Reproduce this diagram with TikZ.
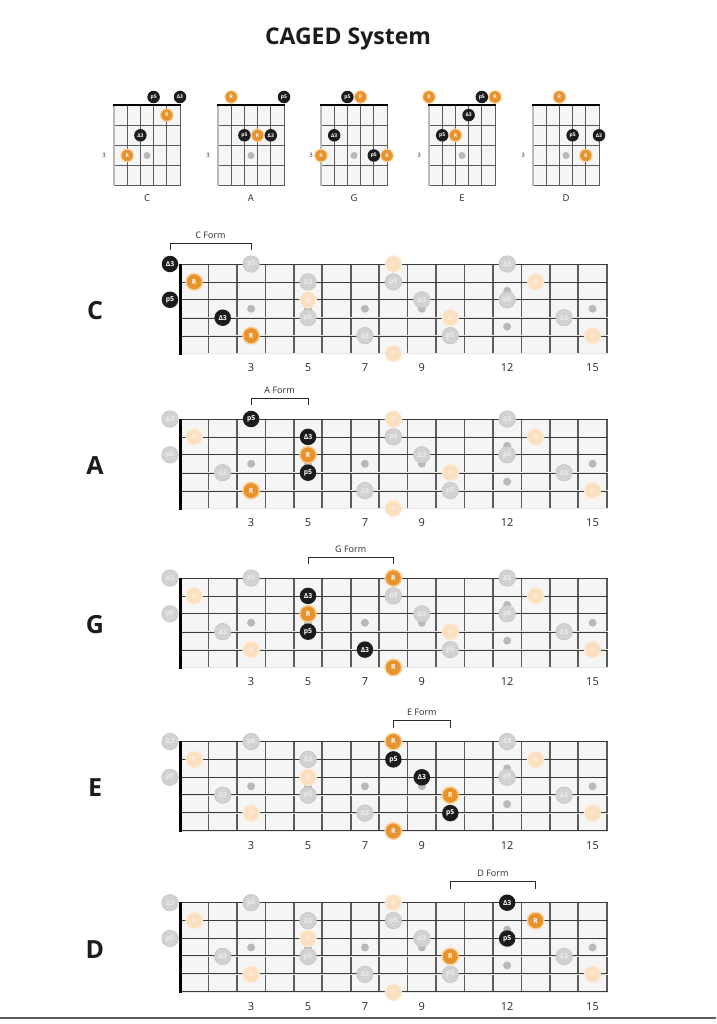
\documentclass[tikz,border=0pt]{standalone}
\usepackage{fontspec}
\setmainfont{Open Sans}
\definecolor{cgorange}{HTML}{E8922B}
\definecolor{cgglow}{HTML}{F7CF98}
\definecolor{cgblack}{HTML}{1C1C1C}
\definecolor{cgfgrey}{HTML}{D2D2D2}
\definecolor{cgfgreyd}{HTML}{C4C4C4}
\definecolor{cgforange}{HTML}{FBE0C0}
\definecolor{cgcell}{HTML}{F5F5F5}
\definecolor{cgfret}{HTML}{5C5C5C}
\definecolor{cgstr}{HTML}{3A3A3A}
\definecolor{cgwound}{HTML}{E6E6E6}
\definecolor{cginlay}{HTML}{B9B9B9}
\definecolor{cgtext}{HTML}{2A2A2A}
\tikzset{
  fretl/.style={draw=cgfret, line width=1.7pt},
  strthin/.style={draw=cgstr, line width=0.8pt},
  strwound/.style={draw=cgstr, line width=0.55pt, double=cgwound, double distance=0.8pt},
  nutline/.style={draw=black, line width=3pt},
  dotbase/.style={circle, inner sep=0pt, minimum size=16.5pt, font=\fontsize{6.8}{6.8}\selectfont\bfseries, text=white},
  tR/.style={dotbase, fill=cgorange, draw=cgglow, line width=1.4pt},
  tD/.style={dotbase, fill=cgblack},
  tP/.style={dotbase, fill=cgblack},
  fR/.style={dotbase, fill=cgforange, draw=cgforange!60!white, line width=1pt, text=cgforange!50!white},
  fD/.style={dotbase, fill=cgfgrey, draw=cgfgreyd, line width=0.6pt, text=cgfgrey!40!white},
  fP/.style={fD},
  inlay/.style={circle, fill=cginlay, inner sep=0pt, minimum size=8pt},
  fretnum/.style={font=\fontsize{11}{11}\selectfont, text=cgtext},
  formlbl/.style={font=\fontsize{9}{9}\selectfont, text=cgtext},
  bracket/.style={draw=cgtext, line width=0.7pt},
  seclbl/.style={font=\fontsize{25}{25}\selectfont\bfseries, text=cgblack},
  titlelbl/.style={font=\fontsize{23}{26}\selectfont\bfseries, text=cgblack},
  cfret/.style={draw=cgfret, line width=1pt},
  cstr/.style={draw=cgfret, line width=0.9pt},
  cleft/.style={draw=cginlay, line width=2.2pt},
  cnut/.style={draw=black, line width=2.4pt},
  cbot/.style={draw=cgfret, line width=1.4pt},
  cdot/.style={circle, inner sep=0pt, minimum size=12.5pt, font=\fontsize{5}{5}\selectfont\bfseries, text=white},
  cR/.style={cdot, fill=cgorange, draw=cgglow, line width=1pt},
  cD/.style={cdot, fill=cgblack},
  cP/.style={cdot, fill=cgblack},
  cinlay/.style={circle, fill=cginlay, inner sep=0pt, minimum size=7pt},
  cfretno/.style={font=\fontsize{6}{6}\selectfont, text=cgtext},
  clabel/.style={font=\fontsize{9.5}{9.5}\selectfont, text=cgtext},
  bottomrule/.style={draw=cgfret, line width=2pt}
}
\def\cgtxtR{R}
\def\cgtxtD{Δ3}
\def\cgtxtP{p5}
% note on a fretboard: prefix, style, string, fret, text
\newcommand{\cgnote}[5]{%
  \pgfmathsetmacro{\cgnx}{(#4==0) ? 170 : (180+(#4-0.5)*28.45)}%
  \node[#2] (#1-#3-#4) at (\cgnx,{(#3-1)*17.9}) {#5};}
% dot on a chord box: prefix, style, string index, fret, text
\newcommand{\cgcdot}[5]{%
  \pgfmathsetmacro{\cgny}{(#4==0) ? -8 : ((#4-0.5)*20.2)}%
  \node[#2] (#1-#3-#4) at ({#3*13.2},\cgny) {#5};}
% chord box: name, x0, label, dots
\newcommand{\cgchord}[4]{%
  \begin{scope}[shift={(#2,105)}]
    \fill[cgcell] (0,0) rectangle (66,80.8);
    \foreach \k in {1,...,3} \draw[cfret] (0,{\k*20.2}) -- (66,{\k*20.2});
    \draw[cbot] (0,80.8) -- (66,80.8);
    \foreach \i in {1,...,5} \draw[cstr] ({\i*13.2},0) -- ({\i*13.2},80.8);
    \draw[cleft] (0,0) -- (0,81.5);
    \draw[cnut] (-1.1,0) -- (67,0);
    \node[cinlay] (#1-inlay) at (33,50.5) {};
    \node[cfretno] (#1-no) at (-10,50.5) {3};
    \node[clabel] (#1-label) at (33,93) {#3};
    \foreach \i/\f/\t in {#4} \cgcdot{#1}{c\t}{\i}{\f}{\csname cgtxt\t\endcsname};
  \end{scope}}
% fretboard: name, y, letter, faded list, active list, bracket x1, bracket x2, form label
\newcommand{\cgboard}[8]{%
  \begin{scope}[shift={(0,#2)}]
    \fill[cgcell] (180,0) rectangle (607,89.5);
    \foreach \k in {1,...,15} \draw[fretl] ({180+\k*28.45},-0.4) -- ({180+\k*28.45},89.9);
    \foreach \s in {1,2,3} \draw[strthin] (180,{(\s-1)*17.9}) -- (607.8,{(\s-1)*17.9});
    \foreach \s in {4,5,6} \draw[strwound] (180,{(\s-1)*17.9}) -- (607.8,{(\s-1)*17.9});
    \draw[nutline] (180,-0.4) -- (180,90.5);
    \foreach \f in {3,5,7,9,15} \node[inlay] (#1-in\f) at ({180+(\f-0.5)*28.45},44.75) {};
    \node[inlay] (#1-in12a) at ({180+11.5*28.45},26.85) {};
    \node[inlay] (#1-in12b) at ({180+11.5*28.45},62.65) {};
    \foreach \f in {3,5,7,9,12,15} \node[fretnum] (#1-n\f) at ({180+(\f-0.5)*28.45},104) {\f};
    \node[seclbl] (#1-letter) at (95,46.5) {#3};
    \foreach \s/\f/\t in {#4} \cgnote{#1}{f\t}{\s}{\f}{\csname cgtxt\t\endcsname};
    \foreach \s/\f/\t in {#5} \cgnote{#1}{t\t}{\s}{\f}{\csname cgtxt\t\endcsname};
    \coordinate (#1-b1) at (#6,-14);
    \coordinate (#1-b2) at (#7,-14);
    \draw[bracket] (#1-b1) -- ++(0,-7) -| (#1-b2);
    \node[formlbl] (#1-form) at ({(#6+#7)/2},-29) {#8};
  \end{scope}}
\begin{document}
\begin{tikzpicture}[x=1pt,y=-1pt]
\fill[white] (0,0) rectangle (716,1024);
\useasboundingbox (0,0) rectangle (716,1024);
\node[titlelbl] (title) at (348,39) {CAGED System};
% chord shapes
\cgchord{cC}{114}{C}{3/0/P,5/0/D,4/1/R,2/2/D,1/3/R}
\cgchord{cA}{218}{A}{1/0/R,5/0/P,2/2/P,3/2/R,4/2/D}
\cgchord{cG}{321}{G}{2/0/P,3/0/R,1/2/D,0/3/R,4/3/P,5/3/R}
\cgchord{cE}{429}{E}{0/0/R,4/0/P,5/0/R,3/1/D,1/2/P,2/2/R}
\cgchord{cDc}{533}{D}{2/0/R,3/2/P,5/2/D,4/3/R}
% fretboards
\cgboard{C}{264}{C}%
  {1/3/P,1/8/R,1/12/D,2/5/D,2/8/P,2/13/R,3/5/R,3/9/D,3/12/P,4/5/P,4/10/R,4/14/D,5/7/D,5/10/P,5/15/R,6/8/R}%
  {1/0/D,2/1/R,3/0/P,4/2/D,5/3/R}%
  {170}{251.1}{C Form}
\cgboard{A}{419}{A}%
  {1/0/D,1/8/R,1/12/D,2/1/R,2/8/P,2/13/R,3/0/P,3/9/D,3/12/P,4/2/D,4/10/R,4/14/D,5/7/D,5/10/P,5/15/R,6/8/R}%
  {1/3/P,2/5/D,3/5/R,4/5/P,5/3/R}%
  {251.1}{308}{A Form}
\cgboard{G}{578}{G}%
  {1/0/D,1/3/P,1/12/D,2/1/R,2/8/P,2/13/R,3/0/P,3/9/D,3/12/P,4/2/D,4/10/R,4/14/D,5/3/R,5/10/P,5/15/R}%
  {1/8/R,2/5/D,3/5/R,4/5/P,5/7/D,6/8/R}%
  {308}{393.4}{G Form}
\cgboard{E}{741.5}{E}%
  {1/0/D,1/3/P,1/12/D,2/1/R,2/5/D,2/13/R,3/0/P,3/5/R,3/12/P,4/2/D,4/5/P,4/14/D,5/3/R,5/7/D,5/15/R}%
  {1/8/R,2/8/P,3/9/D,4/10/R,5/10/P,6/8/R}%
  {393.4}{450.3}{E Form}
\cgboard{D}{902.7}{D}%
  {1/0/D,1/3/P,1/8/R,2/1/R,2/5/D,2/8/P,3/0/P,3/5/R,3/9/D,4/2/D,4/5/P,4/14/D,5/3/R,5/7/D,5/10/P,5/15/R,6/8/R}%
  {1/12/D,2/13/R,3/12/P,4/10/R}%
  {450.3}{535.6}{D Form}
\coordinate (rule-l) at (0,1018);
\coordinate (rule-r) at (716,1018);
\draw[bottomrule] (rule-l) -- (rule-r);
\end{tikzpicture}
\end{document}
